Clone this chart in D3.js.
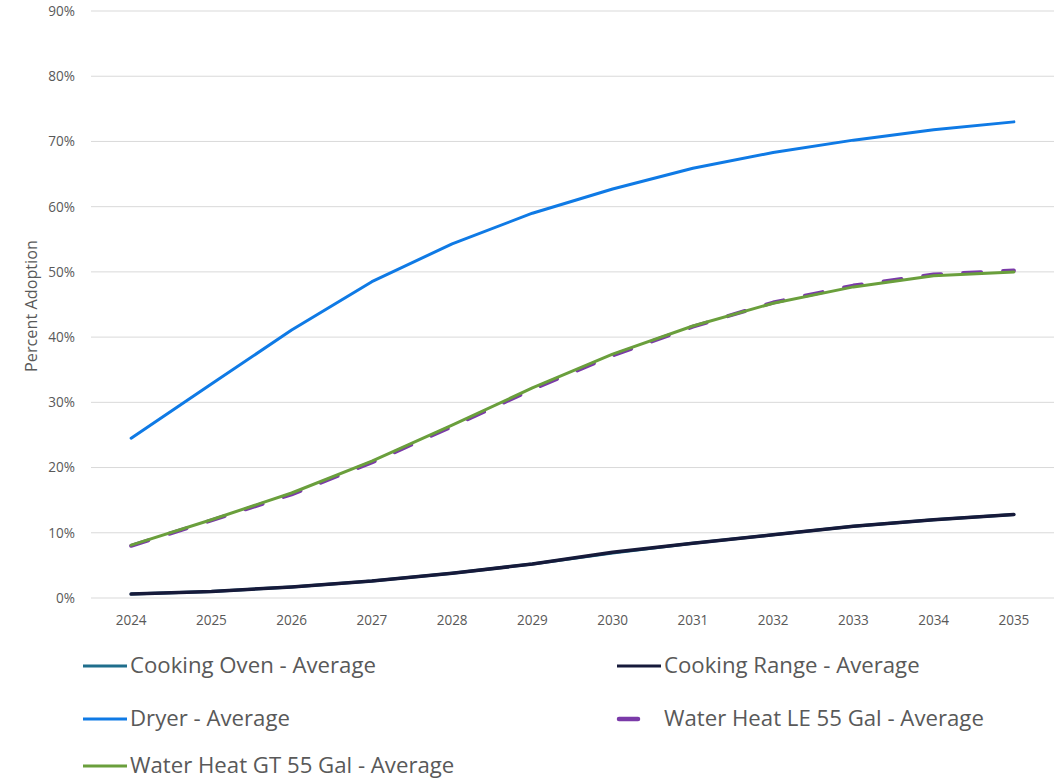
<!DOCTYPE html>
<html>
<head>
<meta charset="utf-8">
<script src="https://cdn.jsdelivr.net/npm/d3@7"></script>
<style>
  html, body { margin: 0; padding: 0; background: #fff; }
  svg { display: block; font-family: "Open Sans", Lato, sans-serif; }
</style>
</head>
<body>
<svg id="chart" width="1058" height="781"></svg>
<script>
// Adoption forecast by end use, 2024–2035 (fraction of stock)
const years = ["2024","2025","2026","2027","2028","2029","2030","2031","2032","2033","2034","2035"];
const yTicks = [0, 0.1, 0.2, 0.3, 0.4, 0.5, 0.6, 0.7, 0.8, 0.9];

const cookingOven  = [0.006, 0.010, 0.017, 0.026, 0.038, 0.052, 0.069, 0.084, 0.097, 0.110, 0.120, 0.128];
const cookingRange = [0.006, 0.010, 0.017, 0.026, 0.038, 0.052, 0.070, 0.084, 0.097, 0.110, 0.120, 0.128];
const dryer        = [0.245, 0.328, 0.411, 0.485, 0.543, 0.590, 0.627, 0.659, 0.683, 0.702, 0.718, 0.730];
const waterHeatLE  = [0.080, 0.119, 0.159, 0.208, 0.263, 0.320, 0.372, 0.416, 0.453, 0.479, 0.496, 0.502];
const waterHeatGT  = [0.081, 0.120, 0.161, 0.210, 0.265, 0.322, 0.374, 0.417, 0.452, 0.477, 0.494, 0.500];

const seriesNames = [
  "Cooking Oven - Average",
  "Cooking Range - Average",
  "Dryer - Average",
  "Water Heat LE 55 Gal - Average",
  "Water Heat GT 55 Gal - Average"
];

const series = [
  { name: seriesNames[0], values: cookingOven,  color: "#1f6e8c", width: 3,   dash: null },
  { name: seriesNames[1], values: cookingRange, color: "#161a3a", width: 3.5, dash: null },
  { name: seriesNames[2], values: dryer,        color: "#0f7ae5", width: 3,   dash: null },
  { name: seriesNames[3], values: waterHeatLE,  color: "#7a3aa8", width: 4,   dash: "18,22" },
  { name: seriesNames[4], values: waterHeatGT,  color: "#6a9f3c", width: 3,   dash: null }
];

const svg = d3.select("#chart");
const margin = { left: 91, right: 4, top: 11, bottom: 183 };
const W = 1058, H = 781;
const textColor = "#595959";

const x = d3.scaleBand().domain(years).range([margin.left, W - margin.right]);
const y = d3.scaleLinear().domain([0, 0.9]).range([H - margin.bottom, margin.top]);
const cx = d => x(d) + x.bandwidth() / 2;

// size a font so a sample string spans the given width
function fitSize(sample, width, base) {
  const t = svg.append("text").style("font-size", base + "px").text(sample);
  const w = t.node().getComputedTextLength();
  t.remove();
  return base * width / w;
}
const tickSize = fitSize("2024", 31, 14);
const titleSize = fitSize("Percent Adoption", 132, 14);
const legendSize = fitSize("Cooking Oven - Average", 246, 20);

// gridlines
svg.append("g")
  .selectAll("line")
  .data(yTicks)
  .join("line")
  .attr("x1", margin.left).attr("x2", W - margin.right)
  .attr("y1", d => y(d)).attr("y2", d => y(d))
  .attr("stroke", "#d9d9d9").attr("stroke-width", 1);

// y axis labels
const yAxis = d3.axisLeft(y).tickValues(yTicks).tickFormat(d3.format(".0%")).tickSize(0).tickPadding(16);
svg.append("g")
  .attr("transform", `translate(${margin.left},0)`)
  .call(yAxis)
  .call(g => g.select(".domain").remove())
  .call(g => g.selectAll("text").attr("fill", textColor)
        .style("font-size", tickSize + "px")
        .style("font-family", "'Open Sans', Lato, sans-serif"));

// x axis labels
const xAxis = d3.axisBottom(x).tickSize(0).tickPadding(14);
svg.append("g")
  .attr("transform", `translate(0,${y(0)})`)
  .call(xAxis)
  .call(g => g.select(".domain").remove())
  .call(g => g.selectAll("text").attr("fill", textColor)
        .attr("dy", "0.35em").attr("y", 22)
        .style("font-size", tickSize + "px")
        .style("font-family", "'Open Sans', Lato, sans-serif"));

// axis title
svg.append("text")
  .attr("transform", `translate(31,306) rotate(-90)`)
  .attr("text-anchor", "middle")
  .attr("dy", "0.35em")
  .attr("fill", textColor)
  .style("font-size", titleSize + "px")
  .text("Percent Adoption");

// series lines
const line = d3.line()
  .x((d, i) => cx(years[i]))
  .y(d => y(d));

svg.append("g")
  .selectAll("path")
  .data(series)
  .join("path")
  .attr("d", d => line(d.values))
  .attr("fill", "none")
  .attr("stroke", d => d.color)
  .attr("stroke-width", d => d.width)
  .attr("stroke-linecap", "round")
  .attr("stroke-linejoin", "round")
  .attr("stroke-dasharray", d => d.dash);

// legend
const legendPos = [
  { x: 83,  y: 666 },
  { x: 617, y: 666 },
  { x: 83,  y: 719 },
  { x: 617, y: 719 },
  { x: 83,  y: 766 }
];
const legend = svg.append("g")
  .selectAll("g")
  .data(series)
  .join("g")
  .attr("transform", (d, i) => `translate(${legendPos[i].x},${legendPos[i].y})`);

legend.append("line")
  .attr("x1", d => d.dash ? 2 : 0)
  .attr("x2", d => d.dash ? 21 : 44)
  .attr("y1", 0).attr("y2", 0)
  .attr("stroke", d => d.color)
  .attr("stroke-width", d => d.dash ? 4.5 : 3)
  .attr("stroke-linecap", d => d.dash ? "round" : "butt");

legend.append("text")
  .attr("x", 47)
  .attr("dy", "0.33em")
  .attr("fill", textColor)
  .style("font-size", legendSize + "px")
  .text(d => d.name);
</script>
</body>
</html>
